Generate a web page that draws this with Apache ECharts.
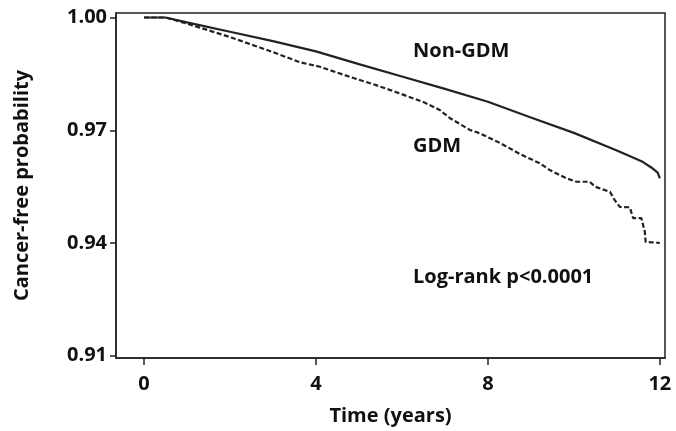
<!DOCTYPE html>
<html>
<head>
<meta charset="utf-8">
<script src="https://cdn.jsdelivr.net/npm/echarts@6/dist/echarts.min.js"></script>
<style>
  html, body { margin: 0; padding: 0; background: #fff; }
  #chart { width: 676px; height: 431px; }
</style>
</head>
<body>
<div id="chart"></div>
<script>
// Kaplan-Meier curves: [time in years, cancer-free probability]
var nonGdm = [
    [0, 1.0], [0.5, 1.0], [1, 0.9987], [2, 0.9962], [3, 0.9937], [4, 0.9910],
    [5, 0.9876], [6, 0.9843], [7, 0.9810], [8, 0.9776], [9, 0.9734],
    [10, 0.9693], [11, 0.9646], [11.6, 0.9616], [11.8, 0.9601], [11.95, 0.9587], [12.0, 0.9572]
];
var gdm = [
    [0, 1.0], [0.5, 1.0], [1, 0.9984], [2, 0.9948], [3, 0.9908], [3.63, 0.9881],
    [4.09, 0.9869], [4.79, 0.9842], [5.4, 0.9820], [5.95, 0.9798], [6.5, 0.9775],
    [6.88, 0.9754], [7.12, 0.9732], [7.58, 0.9701], [7.81, 0.9692], [8.3, 0.9665],
    [8.74, 0.9637], [9.21, 0.9612], [9.44, 0.9594], [9.83, 0.9572], [10.06, 0.9563],
    [10.37, 0.9563], [10.49, 0.9550], [10.84, 0.9536], [10.95, 0.9514], [11.07, 0.9496],
    [11.3, 0.9495], [11.38, 0.9466], [11.57, 0.9466], [11.65, 0.9430], [11.67, 0.9403],
    [12.0, 0.9400]
];
var xTicks = [0, 4, 8, 12];
var yTicks = [0.91, 0.94, 0.97, 1.00];
var seriesNames = ['Non-GDM', 'GDM'];
var pValueText = 'Log-rank p<0.0001';

var font = '"Open Sans", Lato, sans-serif';
var ink = '#111';

var chart = echarts.init(document.getElementById('chart'));

var option = {
    animation: false,
    backgroundColor: '#fff',
    grid: {
        left: 116,
        right: 11,
        top: 13,
        bottom: 73,
        show: true,
        borderColor: '#222',
        borderWidth: 1.5
    },
    xAxis: {
        type: 'value',
        min: -0.65,
        max: 12.12,
        name: 'Time (years)',
        nameLocation: 'middle',
        nameGap: 48,
        nameTextStyle: { fontFamily: font, fontWeight: 'bold', fontSize: 20, color: ink },
        axisLine: { lineStyle: { color: '#222', width: 1.5 } },
        axisTick: { customValues: xTicks, length: 7, lineStyle: { color: '#222', width: 1.5 } },
        axisLabel: {
            customValues: xTicks,
            margin: 16,
            fontFamily: font, fontWeight: 'bold', fontSize: 20, color: ink
        },
        splitLine: { show: false }
    },
    yAxis: {
        type: 'value',
        min: 0.9094,
        max: 1.0012,
        name: 'Cancer-free probability',
        nameLocation: 'middle',
        nameGap: 84,
        nameTextStyle: { fontFamily: font, fontWeight: 'bold', fontSize: 20, color: ink },
        axisLine: { show: true, onZero: false, lineStyle: { color: '#222', width: 1.5 } },
        axisTick: { show: true, customValues: yTicks, length: 6, lineStyle: { color: '#222', width: 1.5 } },
        axisLabel: {
            customValues: yTicks,
            margin: 9,
            formatter: function (v) { return v.toFixed(2); },
            fontFamily: font, fontWeight: 'bold', fontSize: 20, color: ink
        },
        splitLine: { show: false }
    },
    series: [
        {
            name: seriesNames[0],
            type: 'line',
            data: nonGdm,
            symbol: 'none',
            lineStyle: { color: '#222', width: 2.2 }
        },
        {
            name: seriesNames[1],
            type: 'line',
            data: gdm,
            symbol: 'none',
            lineStyle: { color: '#222', width: 2.2, type: [5, 2.5] }
        }
    ],
    graphic: [
        {
            type: 'text', left: 413, top: 41,
            style: { text: seriesNames[0], font: 'bold 20px ' + font, fill: ink }
        },
        {
            type: 'text', left: 413, top: 136,
            style: { text: seriesNames[1], font: 'bold 20px ' + font, fill: ink }
        },
        {
            type: 'text', left: 413, top: 267,
            style: { text: pValueText, font: 'bold 20px ' + font, fill: ink }
        }
    ]
};

chart.setOption(option);
</script>
</body>
</html>
